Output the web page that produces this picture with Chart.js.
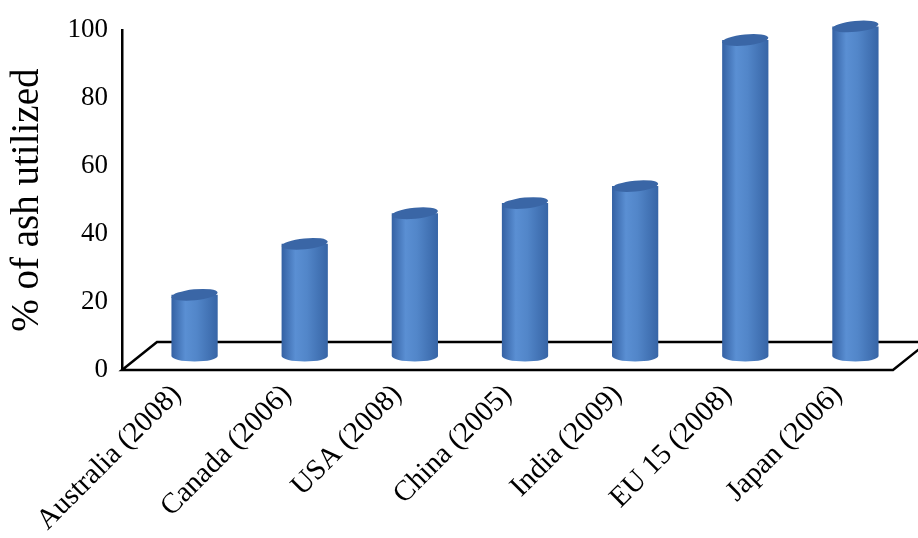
<!DOCTYPE html>
<html>
<head>
<meta charset="utf-8">
<script src="https://cdn.jsdelivr.net/npm/chart.js@4"></script>
<style>
    html, body { margin: 0; padding: 0; background: #fff; }
    #wrap { width: 918px; height: 538px; }
</style>
</head>
<body>
<div id="wrap"><canvas id="ashChart" width="918" height="538"></canvas></div>
<script>
// Fly ash utilisation by country (year)
const categories = ['Australia (2008)', 'Canada (2006)', 'USA (2008)', 'China (2005)', 'India (2009)', 'EU 15 (2008)', 'Japan (2006)'];
const ashUtilized = [18, 33, 42, 45, 50, 93, 97];
const yTicks = [0, 20, 40, 60, 80, 100];

const DEPTH_X = 35;
const DEPTH_Y = 28;

// floor + cylinders drawn by hand on top of the bar elements
const pseudo3d = {
    id: 'pseudo3d',
    beforeDatasetsDraw(chart) {
        const { ctx, chartArea } = chart;
        const L = chartArea.left, R = chartArea.right, B = chartArea.bottom;
        ctx.save();
        ctx.strokeStyle = '#000';
        ctx.lineWidth = 2.5;
        ctx.lineJoin = 'miter';
        ctx.beginPath();
        ctx.moveTo(chart.width + 10, B - DEPTH_Y);
        ctx.lineTo(L + DEPTH_X, B - DEPTH_Y);
        ctx.lineTo(L, B);
        ctx.lineTo(R, B);
        ctx.lineTo(R + DEPTH_X, B - DEPTH_Y);
        ctx.stroke();
        ctx.restore();
    },
    beforeDatasetDraw(chart, args) {
        const { ctx } = chart;
        const meta = args.meta;
        ctx.save();
        meta.data.forEach(bar => {
            const p = bar.getProps(['x', 'y', 'base', 'width'], true);
            const cx = p.x + DEPTH_X / 2;
            const top = p.y - DEPTH_Y / 2;
            const base = p.base - DEPTH_Y / 2;
            const rx = p.width / 2;
            const ry = 5.5;
            const left = cx - rx;

            const grad = ctx.createLinearGradient(left, 0, left + p.width, 0);
            grad.addColorStop(0, '#3461a3');
            grad.addColorStop(0.3, '#5a8fd3');
            grad.addColorStop(0.55, '#5286c9');
            grad.addColorStop(1, '#3765a6');

            // body with rounded bottom
            ctx.beginPath();
            ctx.moveTo(left, top);
            ctx.lineTo(left, base);
            ctx.ellipse(cx, base, rx, ry, 0, Math.PI, 0, true);
            ctx.lineTo(left + p.width, top);
            ctx.closePath();
            ctx.fillStyle = grad;
            ctx.fill();

            // top cap, slightly tilted
            ctx.beginPath();
            ctx.ellipse(cx, top, rx, ry, -0.1, 0, Math.PI * 2);
            ctx.fillStyle = '#3a66a6';
            ctx.fill();
        });
        ctx.restore();
        return false;
    }
};

const canvas = document.getElementById('ashChart');
new Chart(canvas, {
    type: 'bar',
    data: {
        labels: categories,
        datasets: [{
            label: '% of ash utilized',
            data: ashUtilized,
            backgroundColor: '#4f81bd',
            barPercentage: 0.42,
            categoryPercentage: 1
        }]
    },
    options: {
        responsive: false,
        animation: false,
        events: [],
        layout: {
            padding: { top: 27, right: 25, left: 0, bottom: 0 }
        },
        plugins: {
            legend: { display: false },
            tooltip: { enabled: false }
        },
        scales: {
            x: {
                grid: { display: false, drawTicks: false },
                border: { display: false },
                ticks: {
                    color: '#000',
                    minRotation: 45,
                    maxRotation: 45,
                    padding: 8,
                    font: { family: "'Liberation Serif', serif", size: 29 }
                },
                afterFit(scale) { scale.height = 168; }
            },
            y: {
                min: 0,
                max: 100,
                afterBuildTicks(scale) {
                    scale.ticks = yTicks.map(v => ({ value: v }));
                },
                grid: { display: false, drawTicks: false },
                border: { display: true, color: '#000', width: 2.5 },
                ticks: {
                    color: '#000',
                    padding: 14,
                    font: { family: "'Liberation Serif', serif", size: 27 }
                },
                title: {
                    display: true,
                    text: '% of ash utilized',
                    color: '#000',
                    padding: { top: 4, bottom: 0 },
                    font: { family: "'Liberation Serif', serif", size: 39 }
                },
                afterFit(scale) { scale.width = 122; }
            }
        }
    },
    plugins: [pseudo3d]
});
</script>
</body>
</html>
